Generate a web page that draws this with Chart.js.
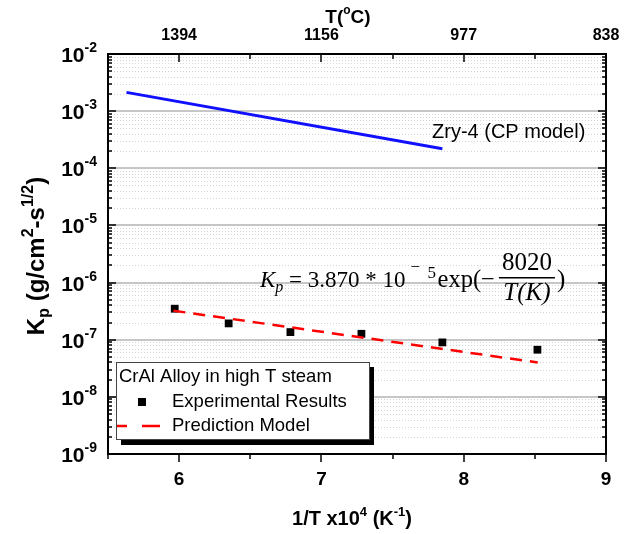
<!DOCTYPE html>
<html>
<head>
<meta charset="utf-8">
<script src="https://cdn.jsdelivr.net/npm/chart.js@4.4.1/dist/chart.umd.min.js"></script>
<style>
  html, body { margin: 0; padding: 0; background: #fff; }
  canvas { display: block; }
</style>
</head>
<body>
<canvas id="kpChart" width="632" height="534"></canvas>
<script>
// 1/T x10^4 (K^-1) and parabolic rate constant Kp (g/cm^2-s^1/2)
const expInvT = [5.969, 6.348, 6.782, 7.281, 7.850, 8.518];
const expKp = [3.49e-7, 1.93e-7, 1.36e-7, 1.27e-7, 8.97e-8, 6.68e-8];

// prediction model line, Kp = 3.870e-5 exp(-8020/T)
const modelInvT = [5.96, 8.52];
const modelKp = [3.22e-7, 4.0e-8];

// Zry-4 Cathcart-Pawel curve
const zryInvT = [5.63, 7.85];
const zryKp = [2.13e-3, 2.2e-4];

// axis ticks
const xMajorTicks = [6, 7, 8, 9];
const xMinorTicks = [5.5, 6.5, 7.5, 8.5];
const topTickLabels = ['1394', '1156', '977', '838'];
const yExponents = [-9, -8, -7, -6, -5, -4, -3, -2];

const SANS = '"Liberation Sans", Arial, sans-serif';
const SERIF = '"Liberation Serif", "Times New Roman", serif';

const toPoints = (xs, ys) => xs.map((v, i) => ({ x: v, y: ys[i] }));

// draws a run of [text, font, baselineShift] pieces left to right
function drawRun(ctx, pieces, x, y) {
  pieces.forEach(([txt, font, dy]) => {
    ctx.font = font;
    ctx.fillText(txt, x, y + (dy || 0));
    x += ctx.measureText(txt).width;
  });
  return x;
}
function runWidth(ctx, pieces) {
  let w = 0;
  pieces.forEach(([txt, font]) => { ctx.font = font; w += ctx.measureText(txt).width; });
  return w;
}

const framePlugin = {
  id: 'frame',
  beforeDatasetsDraw(chart) {
    const { ctx, chartArea: a, scales: { y } } = chart;
    ctx.save();
    // minor grid (dotted)
    ctx.strokeStyle = '#d4d4d4';
    ctx.lineWidth = 1;
    ctx.setLineDash([1, 2]);
    yExponents.slice(0, -1).forEach(e => {
      for (let k = 2; k <= 9; k++) {
        const py = Math.round(y.getPixelForValue(k * Math.pow(10, e))) + 0.5;
        ctx.beginPath(); ctx.moveTo(a.left, py); ctx.lineTo(a.right, py); ctx.stroke();
      }
    });
    // decade grid
    ctx.setLineDash([]);
    ctx.strokeStyle = '#c6c6c6';
    ctx.lineWidth = 2;
    yExponents.slice(1, -1).forEach(e => {
      const py = Math.round(y.getPixelForValue(Math.pow(10, e)));
      ctx.beginPath(); ctx.moveTo(a.left, py); ctx.lineTo(a.right, py); ctx.stroke();
    });
    ctx.restore();
  },
  afterDatasetsDraw(chart) {
    const { ctx, chartArea: a, scales: { x, y } } = chart;
    ctx.save();
    ctx.strokeStyle = '#000';
    ctx.fillStyle = '#000';
    ctx.lineWidth = 2;
    ctx.strokeRect(a.left, a.top, a.right - a.left, a.bottom - a.top);

    // x ticks: bottom outward, top inward
    ctx.lineWidth = 1.5;
    const tickX = (v, len) => {
      const px = Math.round(x.getPixelForValue(v));
      ctx.beginPath(); ctx.moveTo(px, a.bottom); ctx.lineTo(px, a.bottom + len); ctx.stroke();
      ctx.beginPath(); ctx.moveTo(px, a.top); ctx.lineTo(px, a.top + len); ctx.stroke();
    };
    xMajorTicks.forEach(v => tickX(v, 8));
    xMinorTicks.forEach(v => tickX(v, 5));

    // y ticks: inward on both sides
    const tickY = (v, len) => {
      const py = Math.round(y.getPixelForValue(v));
      ctx.beginPath(); ctx.moveTo(a.left, py); ctx.lineTo(a.left + len, py); ctx.stroke();
      ctx.beginPath(); ctx.moveTo(a.right, py); ctx.lineTo(a.right - len, py); ctx.stroke();
    };
    yExponents.forEach((e, i) => {
      tickY(Math.pow(10, e), 8);
      if (i < yExponents.length - 1) {
        for (let k = 2; k <= 9; k++) tickY(k * Math.pow(10, e), 4);
      }
    });

    // bottom tick labels
    ctx.textAlign = 'center';
    ctx.textBaseline = 'middle';
    ctx.font = 'bold 19px ' + SANS;
    xMajorTicks.forEach(v => ctx.fillText(String(v), x.getPixelForValue(v), 480));

    // top tick labels (temperature in C)
    ctx.font = 'bold 16px ' + SANS;
    xMajorTicks.forEach((v, i) => ctx.fillText(topTickLabels[i], x.getPixelForValue(v), 36));

    // y tick labels 10^n
    ctx.textAlign = 'left';
    ctx.textBaseline = 'alphabetic';
    yExponents.forEach(e => {
      const py = y.getPixelForValue(Math.pow(10, e));
      const pieces = [['10', 'bold 21px ' + SANS, 0], [String(e), 'bold 14px ' + SANS, -10]];
      const w = runWidth(ctx, pieces);
      drawRun(ctx, pieces, 97 - w, py + 8);
    });

    // x axis title
    const xTitle = [
      ['1/T x10', 'bold 20px ' + SANS, 0], ['4', 'bold 13px ' + SANS, -9],
      [' (K', 'bold 20px ' + SANS, 0], ['-1', 'bold 13px ' + SANS, -9], [')', 'bold 20px ' + SANS, 0]
    ];
    drawRun(ctx, xTitle, 352 - runWidth(ctx, xTitle) / 2, 525);

    // top axis title
    const tTitle = [['T(', 'bold 19px ' + SANS, 0], ['o', 'bold 12px ' + SANS, -9], ['C)', 'bold 19px ' + SANS, 0]];
    drawRun(ctx, tTitle, 348 - runWidth(ctx, tTitle) / 2, 23);

    // y axis title, rotated
    const yTitle = [
      ['K', 'bold 24px ' + SANS, 0], ['p', 'bold 16px ' + SANS, 5],
      [' (g/cm', 'bold 24px ' + SANS, 0], ['2', 'bold 16px ' + SANS, -11],
      ['-s', 'bold 24px ' + SANS, 0], ['1/2', 'bold 16px ' + SANS, -11], [')', 'bold 24px ' + SANS, 0]
    ];
    ctx.save();
    ctx.translate(44, 256);
    ctx.rotate(-Math.PI / 2);
    drawRun(ctx, yTitle, -runWidth(ctx, yTitle) / 2, 0);
    ctx.restore();

    // curve label
    ctx.font = '20px ' + SANS;
    ctx.textBaseline = 'middle';
    ctx.fillText('Zry-4 (CP model)', 432, 132);

    // model equation
    ctx.textBaseline = 'alphabetic';
    const base = 287;
    let cx = drawRun(ctx, [
      ['K', 'italic 23px ' + SERIF, 0], ['p', 'italic 16px ' + SERIF, 5],
      [' = 3.870 * 10', '23px ' + SERIF, 0]
    ], 260, base);
    drawRun(ctx, [['\u2212', '17px ' + SERIF, -15]], cx + 5, base);
    drawRun(ctx, [['5', '17px ' + SERIF, -9]], cx + 22, base);
    cx = drawRun(ctx, [['exp(\u2212', '24.5px ' + SERIF, 0]], cx + 32, base);
    ctx.font = '25px ' + SERIF;
    const numW = ctx.measureText('8020').width;
    const fx = cx + 4, fw = numW + 6;
    ctx.fillRect(fx, base - 10, fw, 1.5);
    ctx.textAlign = 'center';
    ctx.fillText('8020', fx + fw / 2, base - 17);
    ctx.font = 'italic 25px ' + SERIF;
    ctx.fillText('T(K)', fx + fw / 2, base + 13);
    ctx.textAlign = 'left';
    ctx.font = '25px ' + SERIF;
    ctx.fillText(')', fx + fw + 2, base);

    // legend with drop shadow
    const lx = 116, ly = 362, lw = 253, lh = 77;
    ctx.fillStyle = '#000';
    ctx.fillRect(lx + 5, ly + 5, lw, lh + 1);
    ctx.fillStyle = '#fff';
    ctx.fillRect(lx, ly, lw, lh);
    ctx.strokeStyle = '#444';
    ctx.lineWidth = 1;
    ctx.strokeRect(lx + 0.5, ly + 0.5, lw, lh);
    ctx.fillStyle = '#000';
    ctx.font = '18.5px ' + SANS;
    ctx.textBaseline = 'middle';
    ctx.fillText('CrAl Alloy in high T steam', lx + 3, ly + 15);
    ctx.fillText('Experimental Results', 172, ly + 40);
    ctx.fillText('Prediction Model', 172, ly + 64);
    ctx.fillRect(138, ly + 36, 8, 8);
    ctx.strokeStyle = '#ff0000';
    ctx.lineWidth = 2.5;
    ctx.beginPath();
    ctx.moveTo(lx + 1, ly + 64); ctx.lineTo(lx + 11, ly + 64);
    ctx.moveTo(lx + 26, ly + 64); ctx.lineTo(lx + 44, ly + 64);
    ctx.stroke();
    ctx.restore();
  }
};

new Chart(document.getElementById('kpChart'), {
  type: 'scatter',
  data: {
    datasets: [
      {
        label: 'Prediction Model',
        data: toPoints(modelInvT, modelKp),
        showLine: true,
        borderColor: '#ff0000',
        borderWidth: 2.5,
        borderDash: [12, 8],
        pointRadius: 0
      },
      {
        label: 'Experimental Results',
        data: toPoints(expInvT, expKp),
        pointStyle: 'rect',
        pointRadius: 5.5,
        backgroundColor: '#000',
        borderColor: '#000',
        borderWidth: 0
      },
      {
        label: 'Zry-4 (CP model)',
        data: toPoints(zryInvT, zryKp),
        showLine: true,
        borderColor: '#1010ff',
        borderWidth: 3,
        pointRadius: 0
      }
    ]
  },
  options: {
    responsive: false,
    devicePixelRatio: 1,
    animation: false,
    layout: { padding: { left: 108, top: 54, right: 26, bottom: 80 } },
    scales: {
      x: { type: 'linear', min: 5.5, max: 9, display: false },
      y: { type: 'logarithmic', min: 1e-9, max: 1e-2, display: false }
    },
    plugins: {
      legend: { display: false },
      tooltip: { enabled: false }
    }
  },
  plugins: [framePlugin]
});
</script>
</body>
</html>
